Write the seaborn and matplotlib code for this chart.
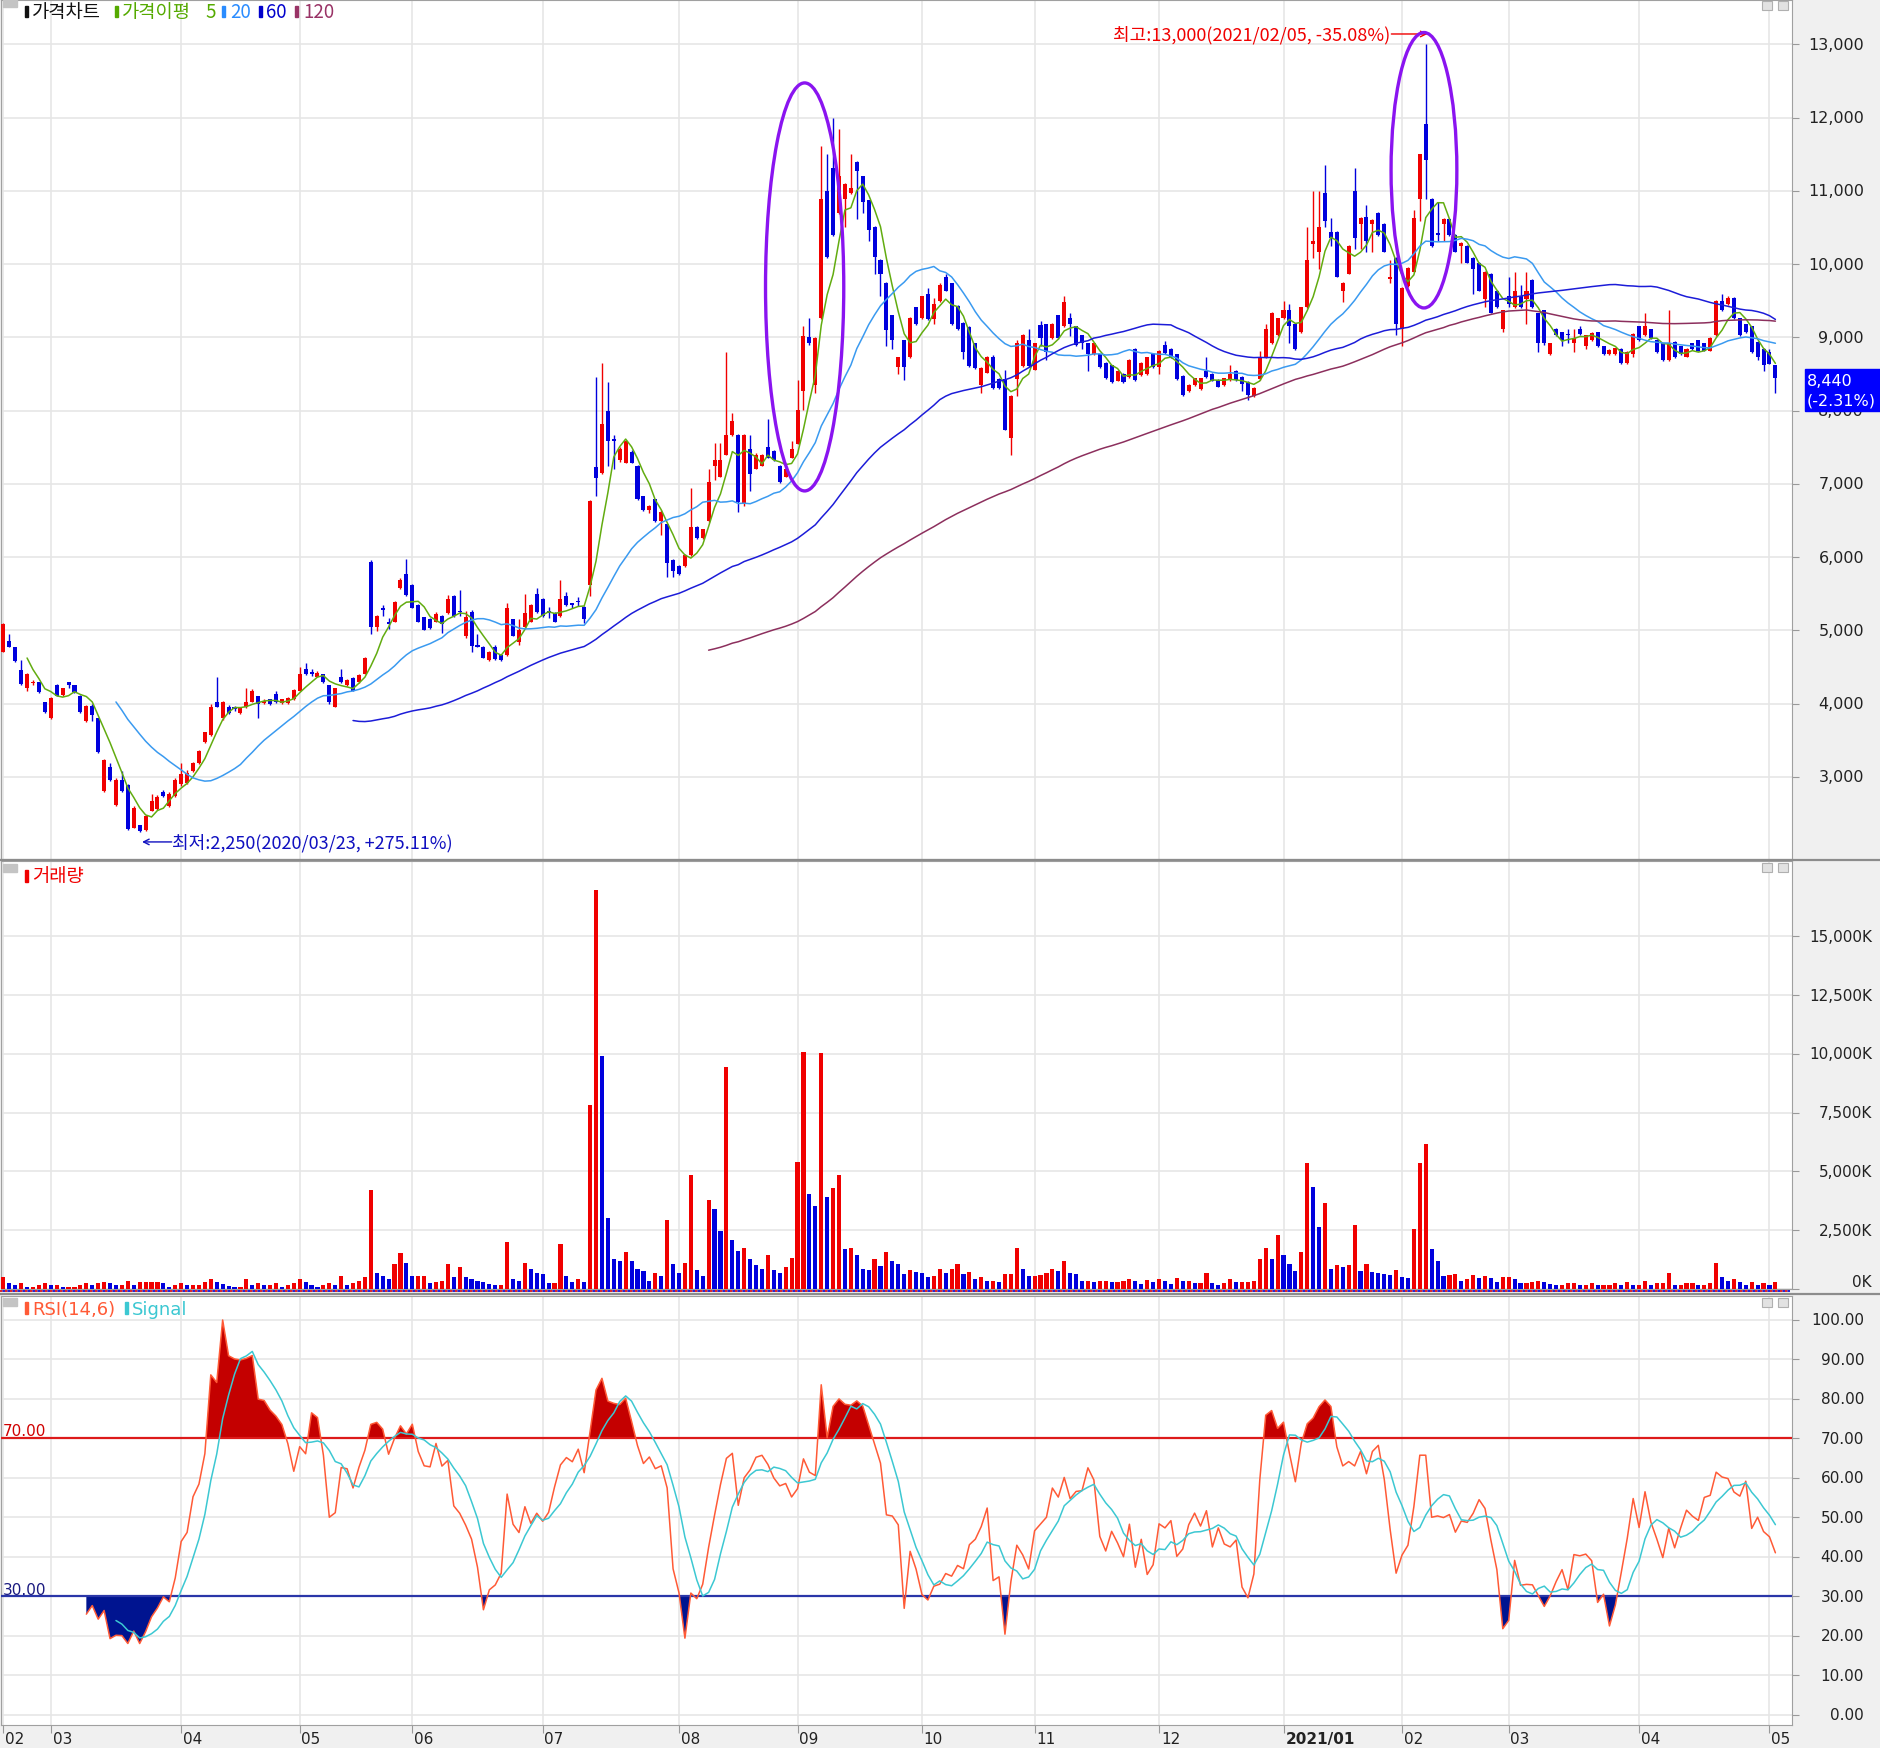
import numpy as np
import pandas as pd
import matplotlib
matplotlib.use("Agg")
import matplotlib.pyplot as plt
import matplotlib.transforms as mtransforms
from matplotlib import font_manager
from matplotlib.patches import Ellipse, Rectangle
from matplotlib.lines import Line2D
import seaborn as sns

# ==========================================
# DATA (daily candles, 2020-02-19 .. 2021-05-04)
# ==========================================
holidays = ["2020-04-15", "2020-04-30", "2020-05-01", "2020-05-05", "2020-08-17",
            "2020-09-30", "2020-10-01", "2020-10-02", "2020-10-09", "2020-12-25",
            "2020-12-31", "2021-01-01", "2021-02-11", "2021-02-12", "2021-03-01"]

open_ = [
    4710, 4860, 4770, 4460, 4210, 4280, 4290, 4020, 3810, 4250,
    4120, 4290, 4250, 4110, 3760, 3970, 3800, 2810, 3130, 2620,
    2960, 2890, 2310, 2340, 2270, 2540, 2560, 2790, 2600, 2740,
    2900, 2920, 3080, 3190, 3480, 3570, 4025, 3800, 3960, 3950,
    3870, 3950, 4025, 4100, 4010, 4060, 4130, 4010, 4010, 4060,
    4180, 4480, 4430, 4370, 4400, 4250, 3960, 4370, 4250, 4345,
    4290, 4410, 5940, 5050, 5300, 5110, 5120, 5580, 5770, 5620,
    5350, 5180, 5160, 5120, 5200, 5240, 5470, 5270, 4920, 5250,
    4800, 4780, 4590, 4780, 4670, 4670, 5150, 4840, 5050, 5120,
    5500, 5430, 5260, 5240, 5200, 5470, 5370, 5400, 5320, 5620,
    7225, 7150, 8000, 7610, 7325, 7290, 7440, 7250, 6830, 6650,
    6790, 6490, 6450, 5960, 5880, 5880, 6030, 6410, 6260, 6490,
    7250, 7100, 7400, 7670, 7670, 6720, 7480, 7210, 7250, 7510,
    7450, 7250, 7100, 7360, 7550, 8270, 9000, 8350, 9260, 11000,
    11310, 10700, 10890, 10970, 11400, 11200, 10870, 10510, 10060, 9750,
    9300, 8590, 8960, 8730, 9410, 9260, 9600, 9250, 9500, 9830,
    9740, 9430, 9200, 9140, 8920, 8350, 8520, 8740, 8430, 8430,
    7630, 8430, 8610, 8960, 8560, 9170, 9180, 8990, 9300, 9150,
    9260, 9150, 9030, 8920, 8770, 8770, 8650, 8620, 8410, 8500,
    8460, 8840, 8490, 8500, 8770, 8590, 8900, 8840, 8770, 8480,
    8270, 8350, 8290, 8540, 8500, 8420, 8350, 8420, 8540, 8460,
    8390, 8200, 8430, 8730, 8920, 9030, 9260, 9370, 9180, 9070,
    9410, 10280, 10170, 10970, 10440, 10440, 9640, 9870, 11000, 10550,
    10640, 10550, 10700, 10550, 9800, 10090, 9110, 9700, 9900, 10890,
    11915, 10890, 10420, 10550, 10620, 10400, 10250, 10250, 10090, 10020,
    9530, 9870, 9640, 9110, 9560, 9410, 9560, 9530, 9790, 9330,
    9370, 8770, 9120, 9070, 9050, 8920, 9120, 8890, 8960, 9070,
    8880, 8770, 8770, 8840, 8650, 8770, 9150, 9030, 9110, 8970,
    8920, 8690, 8940, 8880, 8740, 8920, 8960, 8920, 8820, 9030,
    9500, 9450, 9540, 9260, 9180, 9150, 8940, 8840, 8800, 8620,
]
high = [
    5100, 4950, 4780, 4590, 4420, 4330, 4300, 4030, 4090, 4270,
    4220, 4300, 4260, 4120, 3980, 3990, 3810, 3250, 3190, 2980,
    3080, 2900, 2600, 2350, 2480, 2770, 2750, 2820, 2790, 2980,
    3190, 3100, 3210, 3370, 3620, 3990, 4370, 4040, 3980, 3970,
    3960, 4210, 4200, 4110, 4060, 4070, 4170, 4070, 4090, 4200,
    4500, 4560, 4470, 4440, 4410, 4260, 4220, 4480, 4340, 4360,
    4400, 4640, 5960, 5210, 5350, 5170, 5400, 5720, 5980, 5630,
    5360, 5190, 5170, 5250, 5210, 5480, 5480, 5550, 5260, 5280,
    4950, 4790, 4720, 4800, 4680, 5370, 5160, 5160, 5500, 5360,
    5580, 5440, 5320, 5250, 5690, 5530, 5380, 5450, 5330, 6780,
    8460, 8650, 8390, 7670, 7500, 7600, 7460, 7260, 6840, 6710,
    6800, 6640, 6460, 5970, 5890, 6050, 6950, 6420, 6390, 7210,
    7560, 7560, 8800, 7970, 7680, 7680, 7670, 7420, 7410, 7890,
    7460, 7260, 7220, 7590, 8420, 9150, 9260, 9000, 11610, 11500,
    11990, 11840, 11110, 11500, 11410, 11210, 10880, 10520, 10070, 9760,
    9310, 8740, 8970, 9280, 9420, 9570, 9680, 9540, 9750, 9870,
    9750, 9440, 9210, 9150, 8930, 8590, 8750, 8760, 8440, 8560,
    8210, 8960, 9050, 9110, 8930, 9220, 9190, 9200, 9310, 9560,
    9330, 9160, 9040, 8930, 8930, 8780, 8660, 8630, 8550, 8510,
    8700, 8850, 8660, 8740, 8780, 8830, 8950, 8850, 8780, 8490,
    8360, 8450, 8450, 8740, 8510, 8430, 8450, 8630, 8550, 8470,
    8400, 8320, 8810, 9180, 9350, 9270, 9500, 9450, 9190, 9420,
    10510, 11000, 11000, 11350, 10630, 10450, 9760, 10260, 11310, 10640,
    10810, 10620, 10710, 10560, 10060, 10100, 9690, 9960, 10740, 11510,
    13000, 10900, 10850, 10630, 10630, 10410, 10300, 10260, 10100, 10030,
    9910, 9880, 9650, 9380, 9830, 9900, 9720, 9900, 9800, 9340,
    9380, 8930, 9130, 9080, 9110, 9120, 9150, 9040, 9070, 9080,
    8890, 8840, 8860, 8850, 8810, 9060, 9160, 9340, 9120, 8980,
    8930, 9370, 8950, 8890, 8850, 8930, 8970, 8930, 9000, 9510,
    9600, 9560, 9550, 9270, 9190, 9160, 8950, 8850, 8840, 8630,
]
low = [
    4700, 4770, 4570, 4260, 4180, 4260, 4150, 3880, 3790, 4100,
    4100, 4210, 4150, 3880, 3750, 3760, 3330, 2800, 2950, 2610,
    2800, 2280, 2300, 2250, 2260, 2530, 2550, 2720, 2590, 2730,
    2880, 2900, 3070, 3180, 3470, 3560, 3950, 3780, 3860, 3900,
    3860, 3940, 4020, 3800, 3990, 3980, 4010, 4000, 4000, 4050,
    4170, 4390, 4380, 4360, 4280, 4000, 3950, 4280, 4240, 4170,
    4280, 4400, 4950, 4990, 5200, 5020, 5110, 5560, 5470, 5300,
    5110, 5000, 5020, 5110, 4970, 5230, 5190, 5200, 4900, 4700,
    4770, 4620, 4580, 4600, 4580, 4650, 4920, 4800, 5040, 5110,
    5240, 5190, 5170, 5110, 5190, 5340, 5300, 5340, 5100, 5470,
    6830, 7140, 7250, 7210, 7300, 7280, 7280, 6780, 6630, 6600,
    6480, 6300, 5730, 5730, 5760, 5870, 6020, 6250, 6250, 6480,
    7060, 7090, 7390, 7660, 6620, 6700, 6910, 7200, 7240, 7350,
    7320, 7010, 7090, 7350, 7540, 8010, 8900, 8240, 9250, 10090,
    10390, 10690, 10510, 10960, 10620, 10700, 10320, 9870, 9560, 8880,
    8840, 8500, 8420, 8720, 9170, 9250, 9240, 9180, 9490, 9630,
    9170, 9100, 8700, 8600, 8570, 8240, 8510, 8300, 8300, 7730,
    7400, 8200, 8600, 8600, 8550, 8880, 8690, 8980, 8980, 9140,
    9020, 8890, 8840, 8540, 8760, 8580, 8430, 8380, 8400, 8380,
    8450, 8410, 8480, 8490, 8580, 8500, 8780, 8720, 8420, 8200,
    8260, 8340, 8280, 8450, 8400, 8320, 8340, 8410, 8410, 8270,
    8150, 8190, 8420, 8720, 8910, 9020, 9250, 8920, 8830, 9060,
    9400, 10090, 9940, 10510, 10250, 9820, 9490, 9860, 10210, 10210,
    10170, 10170, 10390, 10160, 9750, 9030, 8880, 9690, 9890, 10590,
    10890, 10240, 10320, 10320, 10390, 10160, 10020, 10010, 9600, 9630,
    9410, 9330, 9400, 9070, 9410, 9400, 9400, 9180, 9400, 8800,
    8900, 8760, 9020, 8880, 8920, 8800, 9040, 8840, 8950, 8870,
    8760, 8760, 8760, 8640, 8640, 8730, 8950, 9020, 8980, 8790,
    8680, 8680, 8720, 8760, 8730, 8830, 8810, 8810, 8810, 9020,
    9360, 9440, 9250, 9020, 9060, 8790, 8690, 8540, 8640, 8240,
]
close = [
    5090, 4780, 4580, 4270, 4400, 4300, 4160, 3890, 4080, 4110,
    4210, 4260, 4160, 3890, 3970, 3840, 3340, 3230, 2960, 2960,
    2810, 2290, 2580, 2260, 2470, 2670, 2730, 2740, 2770, 2960,
    3040, 3050, 3190, 3360, 3610, 3950, 3960, 4025, 3870, 3930,
    3950, 4025, 4180, 3990, 4040, 3990, 4020, 4060, 4080, 4190,
    4400, 4400, 4410, 4420, 4290, 4025, 4210, 4290, 4330, 4180,
    4390, 4620, 5050, 5200, 5280, 5090, 5390, 5690, 5480, 5310,
    5120, 5010, 5030, 5220, 5090, 5430, 5200, 5250, 5180, 4790,
    4780, 4630, 4700, 4610, 4590, 5300, 4930, 5010, 5240, 5350,
    5250, 5200, 5240, 5120, 5430, 5350, 5350, 5390, 5150, 6770,
    7075, 7820, 7590, 7590, 7475, 7590, 7290, 6790, 6640, 6700,
    6490, 6620, 5920, 5810, 5770, 6030, 6410, 6260, 6380, 7020,
    7330, 7330, 7670, 7860, 6760, 7670, 7140, 7400, 7400, 7360,
    7330, 7020, 7210, 7480, 8010, 9020, 8920, 8990, 10890, 10100,
    10400, 11210, 11100, 11040, 11270, 10850, 10470, 10100, 9870, 9100,
    8960, 8730, 8590, 9260, 9180, 9560, 9250, 9450, 9715, 9640,
    9180, 9120, 8800, 8610, 8580, 8580, 8740, 8310, 8310, 7740,
    8200, 8920, 9030, 8610, 8920, 8990, 8800, 9180, 8990, 9490,
    9180, 8900, 8920, 8770, 8920, 8590, 8440, 8390, 8540, 8390,
    8690, 8420, 8650, 8730, 8590, 8820, 8790, 8730, 8430, 8210,
    8350, 8440, 8440, 8460, 8410, 8330, 8440, 8500, 8420, 8360,
    8210, 8310, 8730, 9110, 9340, 9260, 9370, 9150, 8840, 9410,
    10060, 10320, 10510, 10590, 10360, 9830, 9750, 10250, 10360, 10630,
    10320, 10610, 10400, 10170, 9830, 9180, 9680, 9950, 10630, 11500,
    11420, 10250, 10400, 10620, 10400, 10170, 10290, 10020, 9940, 9640,
    9900, 9340, 9410, 9370, 9450, 9640, 9410, 9640, 9410, 8920,
    8920, 8920, 9030, 8960, 9030, 8990, 9050, 9030, 9060, 8880,
    8770, 8830, 8850, 8650, 8800, 9050, 8960, 9150, 8990, 8800,
    8690, 8920, 8730, 8770, 8840, 8840, 8820, 8820, 8990, 9500,
    9370, 9540, 9260, 9030, 9070, 8800, 8730, 8620, 8640, 8440,
]
volume_k = [
    492, 239, 183, 239, 98, 98, 183, 239, 183, 183,
    98, 98, 98, 183, 239, 183, 239, 309, 239, 183,
    183, 352, 183, 309, 309, 309, 309, 239, 98, 183,
    239, 183, 183, 183, 309, 422, 281, 211, 141, 98,
    98, 422, 183, 239, 183, 183, 239, 98, 183, 239,
    422, 309, 183, 98, 183, 239, 183, 562, 183, 239,
    352, 492, 4218, 661, 562, 422, 1055, 1547, 1125, 562,
    562, 562, 239, 309, 352, 1055, 492, 942, 492, 422,
    352, 281, 211, 183, 183, 2011, 422, 352, 1125, 872,
    675, 633, 239, 239, 1898, 562, 309, 422, 309, 7831,
    16984, 9912, 3023, 1265, 1195, 1575, 1195, 872, 745, 352,
    661, 562, 2953, 1055, 661, 1125, 4851, 801, 562, 3768,
    3403, 2461, 9462, 2067, 1617, 1758, 1265, 1012, 872, 1448,
    801, 661, 942, 1336, 5413, 10095, 4035, 3543, 10053, 3909,
    4288, 4851, 1687, 1758, 1448, 872, 801, 1265, 984, 1575,
    1195, 1055, 633, 815, 703, 661, 520, 562, 844, 661,
    844, 1055, 633, 703, 422, 492, 323, 352, 309, 633,
    633, 1758, 872, 562, 562, 605, 661, 872, 745, 1195,
    675, 633, 352, 352, 309, 352, 352, 309, 309, 352,
    422, 352, 211, 380, 281, 422, 352, 211, 464, 352,
    352, 239, 239, 661, 239, 183, 239, 422, 309, 309,
    309, 352, 1294, 1758, 1265, 2278, 1434, 1055, 745, 1575,
    5371, 4359, 2643, 3656, 872, 1012, 942, 1012, 2714, 745,
    1055, 731, 661, 633, 605, 801, 492, 464, 2573, 5371,
    6186, 1687, 1195, 562, 591, 633, 352, 422, 605, 464,
    562, 464, 281, 492, 492, 422, 239, 239, 281, 352,
    281, 211, 169, 169, 239, 239, 169, 169, 239, 169,
    169, 169, 239, 169, 281, 169, 169, 352, 169, 239,
    239, 661, 169, 169, 239, 239, 169, 169, 239, 1125,
    492, 323, 422, 281, 169, 281, 169, 239, 169, 281,
]

price_ticks = list(range(3000, 13001, 1000))
volume_ticks = [0, 2500, 5000, 7500, 10000, 12500, 15000]
rsi_ticks = list(range(0, 101, 10))

# ==========================================
# INDICATORS
# ==========================================
dates = pd.bdate_range("2020-02-19", "2021-05-04")
dates = dates[~dates.isin(pd.to_datetime(holidays))]

df = pd.DataFrame({"open": open_, "high": high, "low": low,
                   "close": close, "volume": volume_k}, index=dates)
df["x"] = np.arange(len(df))
for n in (5, 20, 60, 120):
    df[f"ma{n}"] = df["close"].rolling(n).mean()

diff = df["close"].diff()
gain = diff.clip(lower=0).rolling(14).mean()
loss = (-diff.clip(upper=0)).rolling(14).mean()
df["rsi"] = 100 * gain / (gain + loss)
df["signal"] = df["rsi"].rolling(6).mean()

month_key = dates.year * 100 + dates.month
starts = np.r_[0, np.flatnonzero(np.diff(month_key)) + 1]

# ==========================================
# FIGURE
# ==========================================
sns.set_style("white")
plt.rcParams["font.family"] = ["DejaVu Sans"]
KR = ["Noto Sans CJK KR", "DejaVu Sans"]
installed = {f.name for f in font_manager.fontManager.ttflist}
NARROW = "Liberation Sans Narrow" if "Liberation Sans Narrow" in installed else "DejaVu Sans"
NS = 14 if NARROW != "DejaVu Sans" else 11
HS = 15 if NARROW != "DejaVu Sans" else 13

RED = "#f00000"
BLUE = "#0000dd"
GRID = "#e6e6e6"

W, H = 1880, 1749
fig = plt.figure(figsize=(W / 100, H / 100), dpi=100, facecolor="#f0f0f0")


def panel(top, bottom):
    ax = fig.add_axes([1 / W, 1 - bottom / H, 1791 / W, (bottom - top) / H])
    ax.set_facecolor("white")
    for s in ax.spines.values():
        s.set_color("#a0a0a0")
    return ax


def fig_rect(x, y, w, h, **kw):
    fig.add_artist(Rectangle((x / W, 1 - (y + h) / H), w / W, h / H,
                             transform=fig.transFigure, **kw))


def right_labels(ax, values, fmt, x_px, size, family, zero_up=False):
    tr = mtransforms.blended_transform_factory(fig.transFigure, ax.transData)
    for v in values:
        va = "bottom" if (zero_up and v == 0) else "center"
        ax.text(x_px / W, v, fmt(v), transform=tr, ha="right", va=va,
                fontsize=size, family=family, color="#222222", clip_on=False)


ax_p = panel(1, 860)
ax_v = panel(862, 1290)
ax_r = panel(1297, 1726)

for ax in (ax_p, ax_v, ax_r):
    ax.set_xlim(-0.4, 301.8)
    ax.set_xticks(starts)
    ax.grid(True, color=GRID, lw=1.2)
    ax.set_axisbelow(True)
    ax.tick_params(axis="x", bottom=False, labelbottom=False)
    ax.tick_params(axis="y", left=False, labelleft=False, right=True,
                   labelright=False, length=5, color="#999999")

# ---------- price panel ----------
x = df["x"].values
o, c = df["open"].values, df["close"].values
up = c >= o
cols = np.where(up, RED, BLUE)
ax_p.vlines(x, df["low"], df["high"], colors=cols, lw=1.0, zorder=3)
ax_p.bar(x, np.maximum(np.abs(c - o), 14), bottom=np.minimum(o, c),
         width=0.68, color=cols, lw=0, zorder=4)

ma_colors = {5: "#62ac10", 20: "#3a9af0", 60: "#1c1cd8", 120: "#8c2f5d"}
for n, col in ma_colors.items():
    sns.lineplot(x=df["x"], y=df[f"ma{n}"], ax=ax_p, color=col, lw=1.1, zorder=5)

ax_p.set_ylim(1880, 13607)
ax_p.set_yticks(price_ticks)
ax_p.set_xlabel("")
ax_p.set_ylabel("")
right_labels(ax_p, price_ticks, lambda v: f"{v:,}", 1864, 11.5, "DejaVu Sans")

# purple circles around the two spikes
ax_p.add_patch(Ellipse((135.2, 9690), 13.2, 5570, fill=False, ec="#8a14f0", lw=2.4, zorder=6))
ax_p.add_patch(Ellipse((239.7, 11283), 11.1, 3760, fill=False, ec="#8a14f0", lw=2.4, zorder=6))

# high / low markers
ax_p.annotate("", xy=(240.3, 13143), xytext=(234.2, 13143),
              arrowprops=dict(arrowstyle="->", color=RED, lw=1.0, shrinkA=0, shrinkB=0))
ax_p.text(234.0, 13143, "최고:13,000(2021/02/05, -35.08%)", ha="right", va="center",
          color=RED, fontsize=13, family=KR)
ax_p.annotate("", xy=(23.4, 2113), xytext=(28.4, 2113),
              arrowprops=dict(arrowstyle="->", color="#1010c0", lw=1.0, shrinkA=0, shrinkB=0))
ax_p.text(28.5, 2113, "최저:2,250(2020/03/23, +275.11%)", ha="left", va="center",
          color="#1010c0", fontsize=13, family=KR)

# last price tag
fig_rect(1805, 370, 75, 42, color="#0000ff", zorder=20)
fig.text(1807 / W, 1 - 381 / H, "8,440", color="white", fontsize=11.5, va="center", zorder=21)
fig.text(1807 / W, 1 - 401 / H, "(-2.31%)", color="white", fontsize=11.5, va="center", zorder=21)

# ---------- volume panel ----------
v = df["volume"].values
vol_up = np.r_[True, v[1:] >= v[:-1]]
ax_v.bar(x, v, width=0.7, color=np.where(vol_up, RED, BLUE), lw=0, zorder=3)
ax_v.set_ylim(0, 18209)
ax_v.set_yticks(volume_ticks)
right_labels(ax_v, volume_ticks, lambda t: f"{t:,}K", 1872, NS, NARROW, zero_up=True)

# ---------- RSI panel ----------
rsi = df["rsi"].values
ax_r.fill_between(x, rsi, 70, where=rsi >= 70, interpolate=True, color="#c40000", lw=0, zorder=2)
ax_r.fill_between(x, rsi, 30, where=rsi <= 30, interpolate=True, color="#001490", lw=0, zorder=2)
ax_r.axhline(70, color="#dd1a1a", lw=1.6, zorder=3)
ax_r.axhline(30, color="#2a36a8", lw=1.6, zorder=3)
sns.lineplot(x=df["x"], y=df["rsi"], ax=ax_r, color="#ff5a36", lw=1.1, zorder=4)
sns.lineplot(x=df["x"], y=df["signal"], ax=ax_r, color="#3cc8d2", lw=1.1, zorder=4)
ax_r.set_ylim(-2.66, 106.08)
ax_r.set_yticks(rsi_ticks)
ax_r.set_xlabel("")
ax_r.set_ylabel("")
right_labels(ax_r, rsi_ticks, lambda t: f"{t:.2f}", 1864, NS, NARROW)
ax_r.tick_params(axis="x", bottom=True, length=6, color="#999999")
fig.text(3 / W, 1 - 1431 / H, "70.00", color="#d00000", fontsize=NS, family=NARROW, va="center")
fig.text(3 / W, 1 - 1591 / H, "30.00", color="#1a1a80", fontsize=NS, family=NARROW, va="center")

# month labels under the RSI panel
tr_x = mtransforms.blended_transform_factory(ax_r.transData, fig.transFigure)
for i in starts:
    d = dates[i]
    if d.month == 1:
        label, weight = f"{d.year}/01", "bold"
    else:
        label, weight = f"{d.month:02d}", "normal"
    ax_r.text(i + 0.3, 1 - 1740 / H, label, transform=tr_x, ha="left", va="center",
              fontsize=NS, family=NARROW, weight=weight, color="#222222", clip_on=False)

# ---------- panel headers, separators, window icons ----------
fig_rect(3, 1, 14, 7, color="#c4c4c4")
fig_rect(3, 865, 14, 8, color="#c4c4c4")
fig_rect(3, 1299, 14, 8, color="#c4c4c4")

header = [(25, "#111111", 32, "가격차트"), (115, "#55aa00", 122, "가격이평"),
          (None, "#55aa00", 205, "5"), (222, "#2a8cff", 230, "20"),
          (259, "#0000cc", 266, "60"), (295, "#993366", 303, "120")]
for bar_x, col, tx, s in header:
    if bar_x is not None:
        fig_rect(bar_x, 7, 3, 11, color=col)
    fig.text(tx / W, 1 - 12.5 / H, s, color=col, fontsize=13.5, family=KR, va="center")

fig_rect(25, 871, 3, 12, color=RED)
fig.text(32 / W, 1 - 877 / H, "거래량", color=RED, fontsize=13.5, family=KR, va="center")
fig_rect(25, 1303, 3, 12, color="#ff5a36")
fig.text(32 / W, 1 - 1310 / H, "RSI(14,6)", color="#ff5a36", fontsize=HS, family=NARROW, va="center")
fig_rect(125, 1303, 3, 12, color="#3cc8d2")
fig.text(132 / W, 1 - 1310 / H, "Signal", color="#3cc8d2", fontsize=HS, family=NARROW, va="center")

for top in (2, 864, 1299):
    for ix in (1762, 1778):
        fig_rect(ix, top, 10, 9, facecolor="#e2e2e2", edgecolor="#b0b0b0", lw=0.8)

for y in (861, 1295):
    fig.add_artist(Line2D([0, 1], [1 - y / H] * 2, transform=fig.transFigure,
                          color="#8c8c8c", lw=1.6))
fig.add_artist(Line2D([0, 1790 / W], [1 - 1292 / H] * 2, transform=fig.transFigure,
                      color="#e00000", lw=1.2, linestyle=(0, (1.5, 1.5))))
fig.add_artist(Line2D([0, 1790 / W], [1 - 1292 / H] * 2, transform=fig.transFigure,
                      color="#0000d0", lw=1.2, linestyle=(1.5, (1.5, 1.5))))

fig.savefig("out.png", dpi=100, facecolor=fig.get_facecolor())
